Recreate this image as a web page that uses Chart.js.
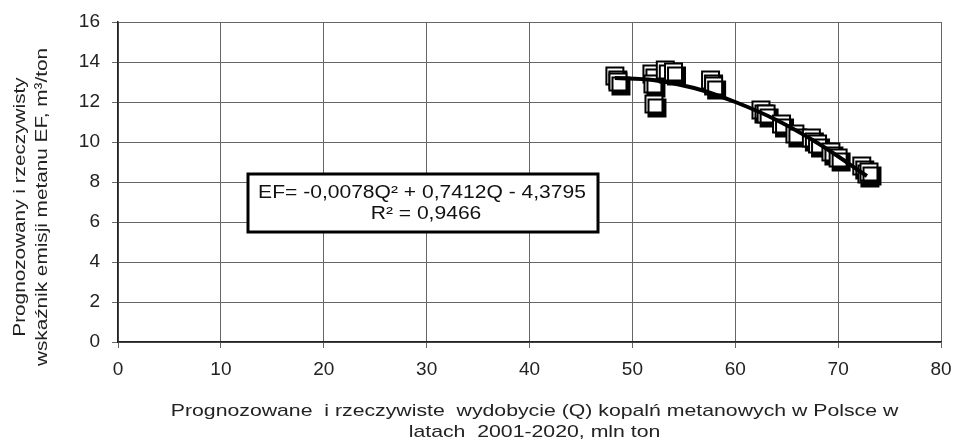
<!DOCTYPE html>
<html>
<head>
<meta charset="utf-8">
<script src="https://cdn.jsdelivr.net/npm/chart.js@4/dist/chart.umd.min.js"></script>
<style>
html, body { margin: 0; padding: 0; background: #fff; }
</style>
</head>
<body>
<canvas id="chart" width="955" height="444"></canvas>
<script>
// wydobycie Q (mln ton) i wskaznik EF (m3/ton), lata 2001-2020
let wydobycie = [48.3, 48.6, 51.9, 52.0, 52.1, 53.2, 54.0, 57.6, 57.9, 62.5, 63.0, 64.5, 65.8, 67.4, 68.0, 69.3, 70.0, 72.3, 72.8, 73.0];
let wskaznik  = [13.3, 13.0, 13.4, 12.9, 11.9, 13.6, 13.5, 13.1, 12.8, 11.6, 11.4, 10.9, 10.4, 10.2,  9.9,  9.5,  9.2,  8.8,  8.4,  8.5];
// linia trendu
let trendQ  = [48.3, 52.0, 56.0, 60.0, 64.0, 68.0, 72.8];
let trendEF = [13.2, 13.1, 12.7, 12.0, 11.1, 9.95, 8.3];

let xTitle = ["Prognozowane  i rzeczywiste  wydobycie (Q) kopalń metanowych w Polsce w", "latach  2001-2020, mln ton"];
let yTitle = ["Prognozowany i rzeczywisty", "wskaźnik emisji metanu EF, m³/ton"];
let equation = ["EF= -0,0078Q² + 0,7412Q - 4,3795", "R² = 0,9466"];

let points = [];
for (let i = 0; i < wydobycie.length; i++)
{
  points.push({x: wydobycie[i], y: wskaznik[i]});
}
let trend = [];
for (let i = 0; i < trendQ.length; i++)
{
  trend.push({x: trendQ[i], y: trendEF[i]});
}

const FONT = "'Liberation Sans', Arial, sans-serif";

// tekst rozciagniety w poziomie (oryginal ma szersze litery)
function wideText(c, text, x, y, stretch) {
  c.save();
  c.translate(x, y);
  c.scale(stretch, 1);
  c.fillText(text, 0, 0);
  c.restore();
}

let shadowPlugin = {
  id: "shadow",
  beforeDatasetDraw(chart, args) {
    if (args.index == 0) {
      let c = chart.ctx;
      c.save();
      c.shadowColor = "#000";
      c.shadowBlur = 0;
      c.shadowOffsetX = 3;
      c.shadowOffsetY = 4;
    }
  },
  afterDatasetDraw(chart, args) {
    if (args.index == 0) chart.ctx.restore();
  }
};

let textPlugin = {
  id: "texts",
  afterDraw(chart) {
    let c = chart.ctx;
    let a = chart.chartArea;
    c.save();
    c.fillStyle = "#222";
    c.textAlign = "center";
    c.textBaseline = "middle";
    c.font = "17px " + FONT;
    // y axis title
    c.save();
    c.translate(20, a.top + 185);
    c.rotate(-Math.PI / 2);
    wideText(c, yTitle[0], 0, 0, 1.22);
    wideText(c, yTitle[1], 0, 22, 1.22);
    c.restore();
    // x axis title
    let cx = (a.left + a.right) / 2 + 5;
    wideText(c, xTitle[0], cx, a.bottom + 69, 1.25);
    wideText(c, xTitle[1], cx, a.bottom + 90, 1.25);
    // equation box
    let bx = a.left + 130, by = a.top + 152, bw = 350, bh = 58;
    c.fillStyle = "#fff";
    c.fillRect(bx, by, bw, bh);
    c.lineWidth = 3;
    c.strokeStyle = "#000";
    c.strokeRect(bx, by, bw, bh);
    c.fillStyle = "#111";
    c.font = "18px " + FONT;
    wideText(c, equation[0], bx + bw / 2 - 1, by + 19, 1.17);
    wideText(c, equation[1], bx + bw / 2 + 3, by + 40, 1.17);
    c.restore();
  }
};

let chart = new Chart(document.getElementById("chart").getContext("2d"), {
  type: "scatter",
  data: {
    datasets: [
      {
        label: "EF",
        data: points,
        pointStyle: "rect",
        pointRadius: 12,
        pointHoverRadius: 12,
        pointBackgroundColor: "#fff",
        pointBorderColor: "#000",
        pointBorderWidth: 2,
        order: 1
      },
      {
        type: "line",
        label: "trend",
        data: trend,
        borderColor: "#000",
        borderWidth: 4,
        pointRadius: 0,
        cubicInterpolationMode: "monotone",
        fill: false,
        order: 0
      }
    ]
  },
  options: {
    responsive: false,
    animation: false,
    layout: { padding: { left: 0, right: 11, top: 22, bottom: 0 } },
    plugins: { legend: { display: false }, tooltip: { enabled: false } },
    scales: {
      x: {
        type: "linear",
        min: 0, max: 80,
        ticks: { stepSize: 10, color: "#222", font: { family: FONT, size: 19 }, padding: 10 },
        grid: { color: "#666", lineWidth: 1, tickLength: 6 },
        border: { color: "#222", width: 1.5 },
        afterFit(scale) { scale.height = 102; scale.paddingRight = 0; scale.paddingLeft = 0; }
      },
      y: {
        min: 0, max: 16,
        ticks: { stepSize: 2, color: "#222", font: { family: FONT, size: 19 }, padding: 12 },
        grid: { color: "#666", lineWidth: 1, tickLength: 6 },
        border: { color: "#222", width: 1.5 },
        afterFit(scale) { scale.width = 118; scale.paddingTop = 0; scale.paddingBottom = 0; }
      }
    }
  },
  plugins: [shadowPlugin, textPlugin]
});
</script>
</body>
</html>
